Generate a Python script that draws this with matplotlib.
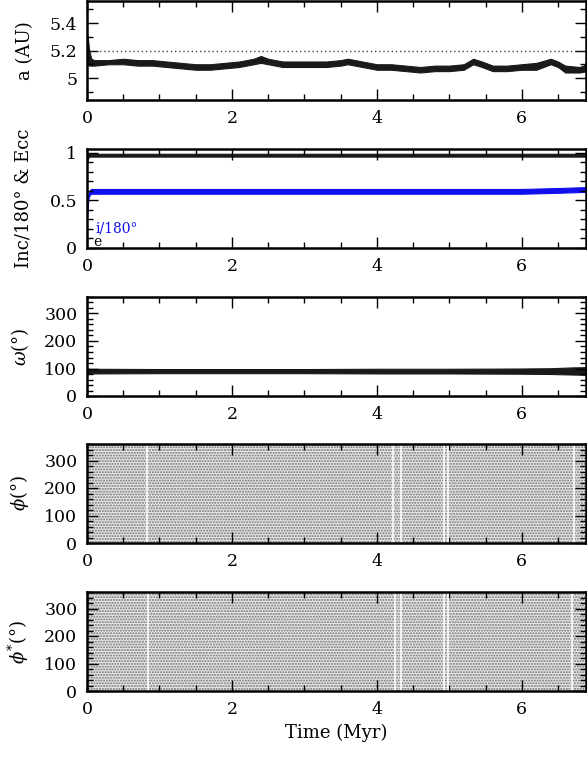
import matplotlib
matplotlib.use("Agg")
import matplotlib.pyplot as plt
from matplotlib.ticker import MultipleLocator

plt.rcParams['font.family'] = ['DejaVu Serif']
plt.rcParams['mathtext.fontset'] = 'dejavuserif'
plt.rcParams['hatch.linewidth'] = 1.0

# ---------------- data ----------------
# semimajor axis band
t_a = [0.0, 0.01, 0.03, 0.06, 0.1, 0.3, 0.5, 0.7, 0.9, 1.1, 1.3, 1.5, 1.7, 1.9, 2.1,
       2.3, 2.4, 2.5, 2.7, 2.9, 3.1, 3.3, 3.5, 3.6, 3.8, 4.0, 4.2, 4.4, 4.6, 4.8,
       5.0, 5.2, 5.33, 5.45, 5.6, 5.8, 6.0, 6.2, 6.4, 6.5, 6.6, 6.8, 6.9]
a_lo = [5.10, 5.10, 5.09, 5.09, 5.09, 5.10, 5.10, 5.09, 5.09, 5.08, 5.07, 5.06, 5.06, 5.07, 5.08,
        5.10, 5.11, 5.10, 5.08, 5.08, 5.08, 5.08, 5.09, 5.10, 5.08, 5.06, 5.06, 5.05, 5.04, 5.05,
        5.05, 5.06, 5.10, 5.08, 5.05, 5.05, 5.06, 5.06, 5.10, 5.08, 5.04, 5.04, 5.05]
a_hi = [5.32, 5.30, 5.20, 5.14, 5.13, 5.13, 5.14, 5.13, 5.13, 5.12, 5.11, 5.10, 5.10, 5.11, 5.12,
        5.14, 5.16, 5.14, 5.12, 5.12, 5.12, 5.12, 5.13, 5.14, 5.12, 5.10, 5.10, 5.09, 5.08, 5.09,
        5.09, 5.10, 5.14, 5.12, 5.09, 5.09, 5.10, 5.11, 5.14, 5.12, 5.09, 5.08, 5.10]
a_ref = 5.2

# eccentricity and inclination/180 bands
t_ie = [0.0, 0.01, 0.02, 0.04, 0.06, 1.0, 2.0, 3.0, 4.0, 5.0, 6.0, 6.5, 6.9]
e_lo = [0.90, 0.93, 0.95, 0.96, 0.96, 0.96, 0.96, 0.96, 0.96, 0.96, 0.96, 0.96, 0.96]
e_hi = [0.99, 0.99, 0.99, 0.99, 0.99, 0.99, 0.99, 0.99, 0.99, 0.99, 0.99, 0.99, 0.99]
i_lo = [0.33, 0.42, 0.52, 0.56, 0.57, 0.57, 0.57, 0.57, 0.57, 0.57, 0.57, 0.58, 0.59]
i_hi = [0.40, 0.52, 0.58, 0.61, 0.62, 0.62, 0.62, 0.62, 0.62, 0.62, 0.62, 0.63, 0.64]

# argument of pericentre band
t_w = [0.0, 0.02, 1.0, 2.0, 3.0, 4.0, 5.0, 6.0, 6.4, 6.7, 6.9]
w_lo = [78, 82, 83, 83, 83, 82, 82, 81, 80, 78, 77]
w_hi = [102, 99, 98, 98, 98, 99, 99, 100, 101, 104, 105]

# resonant angles: circulating, filling 0-360 at all times
t_phi = [0.0, 6.9]
phi_lo = [0, 0]
phi_hi = [360, 360]
phi_gaps = [0.83, 4.22, 4.33, 4.93, 4.98, 6.72]
phis_gaps = [0.84, 4.25, 4.33, 4.93, 4.98, 6.70]

xticks = [0, 2, 4, 6]

# ---------------- figure ----------------
W, H = 587, 757
fig = plt.figure(figsize=(W / 100, H / 100), dpi=100)

left = 87 / W
width = (585.5 - 87) / W
tops = [1, 149, 297, 444, 592]
hpx = 99


def make_ax(top):
    ax = fig.add_axes([left, (H - top - hpx) / H, width, hpx / H])
    ax.set_xlim(0, 6.88)
    ax.set_xticks(xticks)
    ax.xaxis.set_minor_locator(MultipleLocator(0.5))
    ax.tick_params(which='both', direction='in', top=True, right=True,
                   labelsize=12.5, width=1.0, pad=7)
    ax.tick_params(which='major', length=8)
    ax.tick_params(which='minor', length=4)
    for s in ax.spines.values():
        s.set_linewidth(1.8)
    return ax


# panel 1: a
ax1 = make_ax(tops[0])
ax1.fill_between(t_a, a_lo, a_hi, color='#1a1a1a', lw=0.8)
ax1.axhline(a_ref, color='#444444', ls=(0, (1, 2)), lw=1.0)
ax1.set_ylim(4.84, 5.56)
ax1.set_yticks([5, 5.2, 5.4])
ax1.set_yticklabels(['5', '5.2', '5.4'])
ax1.yaxis.set_minor_locator(MultipleLocator(0.1))
ax1.set_ylabel('a (AU)', fontsize=13)
ax1.yaxis.set_label_coords(-0.107, 0.5)

# panel 2: e and i/180
ax2 = make_ax(tops[1])
ax2.fill_between(t_ie, e_lo, e_hi, color='#1a1a1a', lw=0.8)
ax2.fill_between(t_ie, i_lo, i_hi, color='#1010ee', lw=0.8)
ax2.set_ylim(0, 1.04)
ax2.set_yticks([0, 0.5, 1])
ax2.set_yticklabels(['0', '0.5', '1'])
ax2.yaxis.set_minor_locator(MultipleLocator(0.1))
ax2.set_ylabel('Inc/180° & Ecc', fontsize=13)
ax2.yaxis.set_label_coords(-0.11, 0.5)
ax2.text(0.016, 0.20, 'i/180°', color='#1010ee', fontsize=10,
         transform=ax2.transAxes, va='center', ha='left')
ax2.text(0.012, 0.065, 'e', color='black', fontsize=10,
         transform=ax2.transAxes, va='center', ha='left')

# panel 3: omega
ax3 = make_ax(tops[2])
ax3.fill_between(t_w, w_lo, w_hi, color='#1a1a1a', lw=0.8)
ax3.set_ylim(0, 360)
ax3.set_yticks([0, 100, 200, 300])
ax3.yaxis.set_minor_locator(MultipleLocator(20))
ax3.set_ylabel(r'$\omega(\degree)$', fontsize=13)
ax3.yaxis.set_label_coords(-0.113, 0.5)

# panels 4 & 5: phi, phi*
for k, (top, lab, gaps) in enumerate([(tops[3], r'$\phi(\degree)$', phi_gaps),
                                       (tops[4], r'$\phi^{*}(\degree)$', phis_gaps)]):
    ax = make_ax(top)
    ax.fill_between(t_phi, phi_lo, phi_hi, facecolor='#e8e8e8',
                    edgecolor='#707070', hatch='......', lw=0)
    for g in gaps:
        ax.axvline(g, color='white', lw=1.5, alpha=0.8)
    ax.set_ylim(0, 360)
    ax.set_yticks([0, 100, 200, 300])
    ax.yaxis.set_minor_locator(MultipleLocator(20))
    ax.set_ylabel(lab, fontsize=13)
    ax.yaxis.set_label_coords(-0.113, 0.5)
    if k == 1:
        ax.set_xlabel('Time (Myr)', fontsize=13)

fig.savefig('out.png', dpi=100)
